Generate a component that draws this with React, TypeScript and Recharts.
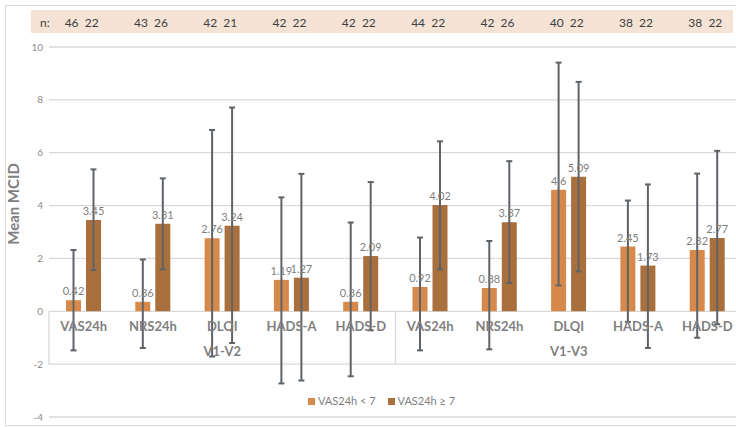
import React from 'react';
import { Bar, BarChart, CartesianGrid, ErrorBar, Label, LabelList, Legend, XAxis, YAxis } from 'recharts';

const groups = ['V1-V2', 'V1-V3'];
const measures = ['VAS24h', 'NRS24h', 'DLQI', 'HADS-A', 'HADS-D'];

// mean MCID per category, in order V1-V2 x measures, then V1-V3 x measures
const meanLow = [0.42, 0.36, 2.76, 1.19, 0.36, 0.92, 0.88, 4.6, 2.45, 2.32];
const meanHigh = [3.45, 3.31, 3.24, 1.27, 2.09, 4.02, 3.37, 5.09, 1.73, 2.77];

// error bar extents [below, above]
const errLow: [number, number][] = [
  [1.9, 1.9], [1.75, 1.6], [4.47, 4.1], [3.92, 3.12], [2.82, 3.0],
  [2.4, 1.87], [2.32, 1.78], [3.62, 4.81], [2.85, 1.74], [3.32, 2.89],
];
const errHigh: [number, number][] = [
  [1.89, 1.92], [1.72, 1.72], [4.44, 4.47], [3.89, 3.93], [2.81, 2.8],
  [2.43, 2.41], [2.3, 2.31], [3.58, 3.59], [3.12, 3.07], [3.26, 3.3],
];

const nLow = [46, 43, 42, 42, 42, 44, 42, 40, 38, 38];
const nHigh = [22, 26, 21, 22, 22, 22, 26, 22, 22, 22];

const yTicks = [-4, -2, 0, 2, 4, 6, 8, 10];
const Y_MIN = -4;
const Y_MAX = 10;

const data = groups.flatMap((group, g) =>
  measures.map((measure, m) => {
    const i = g * measures.length + m;
    return {
      key: `${group}|${measure}`,
      group,
      measure,
      low: meanLow[i],
      high: meanHigh[i],
      lowErr: errLow[i],
      highErr: errHigh[i],
    };
  }),
);

const W = 760;
const H = 427;
const margin = { top: 10, right: 18, bottom: 0, left: 0 };
const TOP_AXIS_H = 37;
const BOTTOM_AXIS_H = 10;
const Y_AXIS_W = 49;
const PLOT_TOP = margin.top + TOP_AXIS_H;
const PLOT_BOTTOM = H - margin.bottom - BOTTOM_AXIS_H;
const BAND = (W - margin.left - margin.right - Y_AXIS_W) / data.length;

const yPix = (v: number) => PLOT_TOP + ((Y_MAX - v) / (Y_MAX - Y_MIN)) * (PLOT_BOTTOM - PLOT_TOP);

const grey = '#7f7f7f';
const gridColor = '#d9d9d9';

// category labels sit on the zero line, in a box that reaches down to -2 (Excel style)
function CategoryTick(props: any) {
  const { x, index } = props;
  const row = data[index];
  if (!row) return <g />;
  const zeroY = yPix(0);
  const boxBottom = yPix(-2);
  const pos = index % measures.length;
  const last = index === data.length - 1;
  return (
    <g>
      {pos === 0 && (
        <line x1={x - BAND / 2} x2={x - BAND / 2} y1={zeroY} y2={boxBottom} stroke={gridColor} strokeWidth={1.3} />
      )}
      {last && (
        <line x1={x + BAND / 2} x2={x + BAND / 2} y1={zeroY} y2={boxBottom} stroke={gridColor} strokeWidth={1.3} />
      )}
      <text x={x} y={zeroY + 20} textAnchor="middle" fontSize={13} fontWeight={700} fill={grey}>
        {row.measure}
      </text>
      {pos === 2 && (
        <text x={x} y={zeroY + 45} textAnchor="middle" fontSize={13} fontWeight={700} fill={grey}>
          {row.group}
        </text>
      )}
    </g>
  );
}

function NTick(props: any) {
  const { x, index } = props;
  const cy = margin.top + 12;
  return (
    <g>
      {index === 0 && (
        <text x={x - BAND / 2 - 9} y={cy} dominantBaseline="central" fontSize={12} fill="#404040">
          n:
        </text>
      )}
      <text x={x - 2} y={cy} dominantBaseline="central" textAnchor="middle" fontSize={12} fill="#404040">
        {`${nLow[index]}\u00a0\u00a0${nHigh[index]}`}
      </text>
    </g>
  );
}

function LegendContent(props: any) {
  const { payload = [] } = props;
  return (
    <div style={{ display: 'flex', gap: 12, fontSize: 11, color: grey, lineHeight: '14px' }}>
      {payload.map((p: any) => (
        <div key={p.value} style={{ display: 'flex', alignItems: 'center', gap: 3 }}>
          <span style={{ width: 7, height: 7, background: p.color, display: 'inline-block' }} />
          <span>{p.value}</span>
        </div>
      ))}
    </div>
  );
}

export default function App() {
  return (
    <div
      style={{
        position: 'absolute',
        left: 0,
        top: 0,
        width: 736,
        height: 427,
        overflow: 'hidden',
        background: '#fff',
        fontFamily: 'Lato, "Open Sans", sans-serif',
      }}
    >
      <div
        style={{
          position: 'absolute',
          left: 5,
          top: 5,
          width: 760,
          height: 419,
          border: `1px solid ${gridColor}`,
        }}
      />
      <div style={{ position: 'absolute', left: 31, top: 10, width: 702, height: 23, background: '#f5e3d6' }} />
      <div style={{ position: 'absolute', left: 0, top: 0 }}>
        <BarChart width={W} height={H} data={data} margin={margin} barSize={15} barGap={5}>
          <CartesianGrid stroke={gridColor} strokeWidth={1.3} vertical={false} />
          <XAxis
            dataKey="key"
            height={BOTTOM_AXIS_H}
            axisLine={false}
            tickLine={false}
            interval={0}
            tick={<CategoryTick />}
          />
          <XAxis
            xAxisId="n"
            orientation="top"
            dataKey="key"
            height={TOP_AXIS_H}
            axisLine={false}
            tickLine={false}
            interval={0}
            tick={<NTick />}
          />
          <YAxis
            width={Y_AXIS_W}
            domain={[Y_MIN, Y_MAX]}
            ticks={yTicks}
            interval={0}
            axisLine={false}
            tickLine={false}
            tickSize={4}
            tick={{ fontSize: 10, fill: '#8c8c8c' }}
          >
            <Label
              content={(p: any) => {
                const vb = p.viewBox || {};
                const cx = (vb.x ?? 0) + 13;
                const cy = (vb.y ?? 0) + (vb.height ?? 0) / 2 - 28;
                return (
                  <text
                    x={cx}
                    y={cy}
                    transform={`rotate(-90 ${cx} ${cy})`}
                    textAnchor="middle"
                    dominantBaseline="central"
                    fontSize={15}
                    fontWeight={700}
                    fill={grey}
                  >
                    Mean MCID
                  </text>
                );
              }}
            />
          </YAxis>
          <Legend
            layout="horizontal"
            align="center"
            verticalAlign="middle"
            wrapperStyle={{ left: 308, top: 394, width: 'auto' }}
            content={<LegendContent />}
          />
          <Bar dataKey="low" name="VAS24h < 7" fill="#d6894b" isAnimationActive={false}>
            <ErrorBar dataKey="lowErr" direction="y" width={3} stroke="#5e6368" strokeWidth={2} />
            <LabelList dataKey="low" position="top" offset={5} fill={grey} fontSize={11} />
          </Bar>
          <Bar dataKey="high" name="VAS24h ≥ 7" fill="#a96f3c" isAnimationActive={false}>
            <ErrorBar dataKey="highErr" direction="y" width={3} stroke="#5e6368" strokeWidth={2} />
            <LabelList dataKey="high" position="top" offset={5} fill={grey} fontSize={11} />
          </Bar>
        </BarChart>
      </div>
    </div>
  );
}
